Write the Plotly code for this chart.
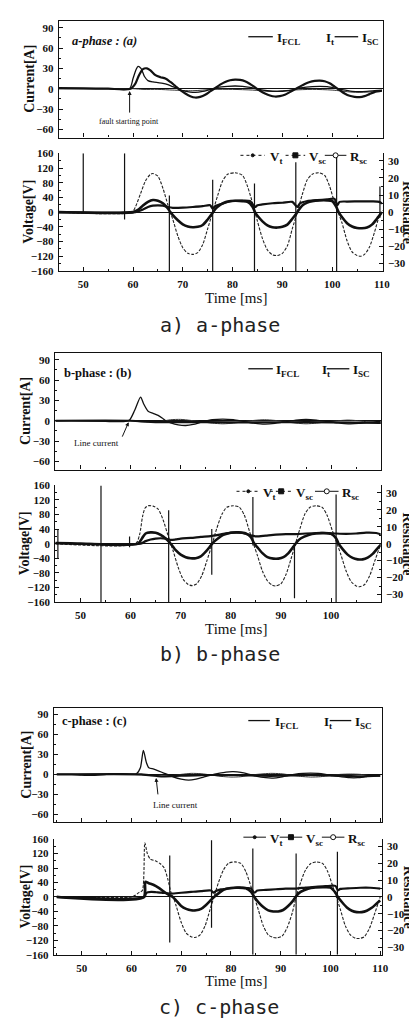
import plotly.graph_objects as go

W, H = 417, 1018

# ================= DATA =================
# ---- a-phase : currents [A] ----
a_isc_t = [45, 50, 55, 59.5, 60.5, 61.2, 62, 62.8, 63.5, 64.5, 65.5, 66.5, 67.5, 68.5, 69.5, 70.5, 71.5, 72.5, 73.5, 74.5, 75.5, 76.5, 77.5, 78.5, 79.5, 80.5, 81.5, 82.5, 83.5, 84.5, 85.5, 86.5, 87.5, 88.5, 89.5, 90.5, 91.5, 92.5, 93.5, 94.5, 95.5, 96.5, 97.5, 98.5, 99.5, 100.5, 101.5, 102.5, 103.5, 104.5, 105.5, 106.5, 107.5, 108.5, 110]
a_isc = [1, 0.5, 0, 0, 8, 20, 29, 30, 27, 20, 17, 15, 10, 4, -2, -7, -11, -13, -12, -9, -4, 1, 6, 10, 12.5, 13.5, 13, 11, 7, 2, -3, -7, -10, -11.5, -11, -9, -5, -1, 3, 7, 10, 11.5, 12, 11, 8, 3, -2, -7, -10.5, -12, -12.5, -11, -8, -5, -3]
a_ifcl_t = [45, 55, 59.3, 60, 60.6, 61, 61.6, 62.3, 63, 64, 65, 66, 67, 68, 69, 70, 71.5, 72.5, 74, 75.5, 77, 79, 80.5, 82, 83.5, 85, 87, 89, 91, 92.5, 94, 96, 97.5, 99, 100.5, 102, 104, 105.5, 107, 108.5, 110]
a_ifcl = [0.5, 0, 0, 15, 28, 33, 30, 18, 12, 10, 9, 8, 6, 3, 0, -3, -5, -5.5, -4, -1, 2, 3.5, 4, 3.5, 2, -0.5, -3, -4, -3, -1, 1.5, 3, 3.5, 3, 1, -1.5, -4, -4.5, -4, -3, -2]
a_it_t = [45, 60, 62, 65, 68, 72, 76, 80, 84, 88, 92, 96, 100, 104, 107, 110]
a_it = [0, 0, -1, -1, -2, -3, -1, -1, -2, -4, -2, -1, -2, -5, -5, -3]

# ---- a-phase : voltages [V] and resistance [ohm] ----
a_vt_t = [45, 59.8, 60.5, 61.5, 62.5, 63.5, 64, 65, 66, 67, 67.5, 68, 69, 70, 71, 72, 73, 74, 75, 76, 77, 78, 79, 80.5, 82, 83, 84, 84.5, 85, 86, 87, 88, 89, 90, 91, 92, 93, 94, 95, 96, 97.3, 98.5, 99.5, 100.5, 101.2, 102, 103, 104, 105, 105.7, 106.5, 107.5, 108.5, 109.5, 110.2]
a_vt = [0, 0, 15, 50, 85, 103, 105, 98, 65, 20, 0, -20, -65, -97, -112, -115, -110, -88, -45, 0, 45, 85, 103, 107, 100, 70, 25, 0, -25, -72, -103, -116, -118, -112, -92, -45, 0, 48, 88, 103, 107, 100, 70, 25, 0, -30, -78, -108, -118, -120, -115, -95, -55, -10, 5]
a_vsc_t = [45, 60, 61, 62, 63, 64, 65, 66, 67, 67.5, 68, 69, 70, 71, 72, 73, 74, 75, 76, 76.5, 77, 78, 79, 80.5, 82, 83, 84, 84.5, 85, 86, 87, 88, 89, 90, 91, 92, 93, 93.5, 94, 95, 96, 97.5, 99, 100, 100.8, 101.3, 102, 103, 104, 105, 106, 107, 108, 109, 110]
a_vsc = [0, 0, 6, 18, 28, 33, 31, 24, 10, 0, -8, -22, -33, -39, -41, -40, -35, -20, -2, 8, 15, 24, 29, 31, 30, 28, 15, 0, -10, -25, -36, -41, -42, -40, -34, -18, 0, 10, 18, 26, 30, 32, 32, 30, 15, 0, -14, -30, -39, -43, -44, -42, -34, -18, 0]
a_rsc_t = [45, 60.5, 62, 63, 64, 65, 66, 67, 68, 70, 72, 74, 75.5, 76, 76.5, 78, 80, 82, 83.5, 84.5, 85, 86, 88, 90, 92, 93, 93.5, 95, 97, 99, 100.5, 101, 101.5, 103, 106, 108, 109.5, 110]
a_rsc = [0, 0, 1.5, 3, 3.8, 4, 3.8, 3, 2.5, 2.6, 3, 3.5, 4, 2, 3.5, 5, 6.5, 6.8, 6.5, 3, 4, 4.5, 5.2, 5.5, 6, 3, 5, 6.5, 7, 7.5, 7.8, 4, 6, 6.2, 6.3, 6.3, 6, 5]
a_spk_t = [50.0, 58.3, 67.3, 76.0, 84.4, 92.7, 100.9, 109.6]
a_spk_lo = [-3, -20, -160, -160, -160, -160, -160, -15]
a_spk_hi = [160, 160, 45, 88, 78, 136, 160, 70]

# ---- b-phase : currents ----
b_ifcl_t = [45, 50, 55, 59, 59.8, 60.8, 62, 62.6, 63.5, 64.5, 65.5, 66.3, 67, 68, 69.5, 71, 72.5, 74.2, 76.3, 78.4, 80.5, 82.5, 84.6, 86.7, 88.8, 90.9, 93, 95, 97.1, 99.2, 101.3, 103.4, 105.5, 107.5, 110]
b_ifcl = [0, 0, -1, -1, 1, 15, 35, 25, 14, 11, 8, 4, 0, -3, -6, -7, -5.5, -2, 1.5, 2.5, 1.5, -1, -3.5, -5, -4, -1.5, 1, 2, 1, -1, -3, -4.5, -4, -2, -1]
b_it_t = [45, 60, 62, 64, 66, 68, 70, 72, 74.2, 76.3, 78.4, 80.5, 82.5, 84.6, 86.7, 88.8, 90.9, 93, 95, 97.1, 99.2, 101.3, 103.4, 105.5, 107.5, 110]
b_it = [0, 0, -1.5, -2, -1, 1.5, 2, 0.5, -1.5, -3.5, -4.5, -3.5, -1.5, 0.5, 1.5, 0.5, -1.5, -3.5, -4.5, -3.5, -1.5, 0, 1, 0, -2, -3.5]
b_isc_t = [45, 60, 65, 75, 85, 95, 110]
b_isc = [0, 0, -2, -2, -2.5, -2, -3]

# ---- b-phase : voltages / resistance ----
b_vt_t = [45, 61, 61.8, 62.4, 62.9, 63.5, 64.5, 65.5, 66.5, 67.3, 68, 68.5, 69.5, 70.5, 71.5, 72.3, 73.2, 74.2, 75.2, 76.3, 77.2, 78.2, 79.2, 80.5, 81.7, 82.7, 83.7, 84.5, 85.3, 86.3, 87.3, 88.3, 89, 90, 91, 92, 92.9, 93.8, 94.8, 95.8, 97, 98.2, 99.2, 100.2, 101.2, 102, 103, 104, 105, 105.7, 106.7, 107.7, 108.7, 109.8]
b_vt = [0, 0, 25, 75, 98, 104, 103, 95, 65, 30, 0, -20, -65, -98, -112, -115, -110, -88, -48, 0, 42, 80, 100, 104, 100, 78, 35, 0, -32, -75, -102, -114, -116, -110, -85, -42, 0, 42, 82, 100, 104, 100, 78, 38, 0, -32, -75, -104, -116, -118, -112, -88, -48, -5]
b_vsc_t = [45, 48, 50, 61.5, 62.3, 63, 64, 65, 66, 67, 67.8, 68.3, 69, 70, 71, 72, 73, 74, 75, 76, 76.6, 77.5, 78.5, 80, 81.5, 83, 84, 84.6, 85.3, 86.3, 87.3, 88.5, 89.5, 90.5, 91.5, 92.5, 93.2, 94, 95.5, 97, 98.5, 100, 101, 101.5, 102.3, 103.3, 104.3, 105.3, 106.3, 107.3, 108.3, 109.3, 110]
b_vsc = [2, 1, 0, 0, 15, 28, 31, 30, 24, 14, 3, -5, -18, -30, -37, -40, -40, -35, -22, -5, 5, 15, 24, 30, 31, 28, 18, 2, -10, -26, -37, -41, -41, -37, -26, -8, 5, 15, 24, 28, 29, 27, 15, 0, -15, -30, -39, -43, -43, -38, -28, -12, -2]
b_rsc_t = [45, 50, 62, 63, 64, 65, 66, 67, 68, 69, 70, 72, 74, 76, 78, 80, 82, 84, 85, 87, 89, 91, 93, 95, 97, 99, 101, 103, 105, 107, 109, 110]
b_rsc = [0.3, 0, 0, 1.5, 2.5, 3, 3.2, 3, 2.2, 2.5, 3, 3.4, 4, 4.5, 5.5, 6.5, 6.5, 5, 4.3, 4.8, 5.3, 5.6, 5.6, 6, 6.3, 6.3, 6, 5.8, 6, 6.5, 6.3, 5.5]
b_spk_t = [45.5, 54.1, 59.8, 67.6, 76.2, 84.4, 92.7, 101.0]
b_spk_lo = [-40, -160, -10, -160, -85, -5, -150, -160]
b_spk_hi = [40, 160, 20, 92, 40, 128, 0, 135]

# ---- c-phase : currents ----
c_ifcl_t = [45, 48, 50, 52, 55, 58, 61, 61.8, 62.4, 63, 63.5, 64.5, 65.5, 66.5, 67.2, 68.5, 70, 71.5, 73, 74.5, 76, 77.5, 79, 80.5, 82, 83.5, 85, 87, 88.5, 90, 91.5, 93, 94.5, 96, 97.5, 99, 100.5, 102, 103.8, 105.5, 107, 108.5, 110]
c_ifcl = [0, 0, -1, -1.5, 0, 1, 1, 10, 36, 18, 10, 8, 5, 2, 0, -4, -7, -8.5, -7, -4, -1, 1.5, 3.5, 4, 3, 0.5, -2.5, -5, -5.5, -4, -1.5, 0.5, 1.5, 2, 1.5, 0, -2, -3.5, -5, -5, -3.5, -2, -1]
c_it_t = [45, 60, 62.5, 64, 66, 68, 70, 72, 74, 76, 78, 80, 82, 84, 86, 88, 90, 92, 94, 96, 98, 100, 102, 104, 106, 108, 110]
c_it = [0, 0, -1, -2, -3, -2, 0, 1.5, 1, -1, -3, -4, -3.5, -1, 0.5, 1.5, 1, -1, -3, -4, -3.5, -1.5, 0, 0.5, 0, -2, -3]
c_isc_t = [45, 62, 66, 70, 74, 78, 82, 86, 90, 94, 98, 102, 106, 110]
c_isc = [0, 0, -3, -2, -1, -1, -1, -2, -2, -1, -1, -2, -3, -2]

# ---- c-phase : voltages / resistance ----
c_vt_t = [45, 60, 60.8, 61.5, 62.2, 62.7, 63.2, 63.8, 64.8, 65.8, 66.6, 67.3, 68, 68.4, 69, 70, 71, 72, 72.8, 73.8, 74.8, 75.8, 76.6, 77.5, 78.5, 79.5, 80.8, 82, 83, 84, 84.7, 85.5, 86.5, 87.5, 88.5, 89.3, 90.3, 91.3, 92.3, 93.1, 94, 95, 96, 97.2, 98.4, 99.4, 100.4, 101.2, 102, 103, 104, 105, 105.8, 106.8, 107.8, 108.8, 110]
c_vt = [0, 0, 5, 12, 18, 150, 120, 105, 100, 92, 80, 50, 10, 0, -25, -70, -100, -110, -112, -105, -80, -35, 0, 40, 75, 93, 97, 93, 70, 30, 0, -35, -80, -105, -112, -113, -108, -85, -45, 0, 40, 75, 92, 97, 93, 72, 32, 0, -35, -80, -105, -114, -115, -110, -88, -50, 0]
c_vsc_t = [45, 62.5, 62.8, 63.5, 64.5, 65.5, 66.5, 67.5, 68.3, 69, 70, 71, 72, 73, 74, 75, 76, 76.6, 77.5, 78.5, 80, 81.5, 83, 84, 84.7, 85.5, 86.5, 87.5, 88.5, 89.5, 90.5, 91.5, 92.5, 93.1, 94, 95.5, 97, 98.5, 100, 101, 101.5, 102.3, 103.3, 104.3, 105.3, 106.3, 107.3, 108.3, 109.3, 110]
c_vsc = [0, 0, 42, 38, 33, 25, 15, 6, 0, -10, -25, -33, -37, -37, -33, -22, -8, 0, 10, 20, 25, 26, 24, 15, 0, -14, -28, -37, -40, -40, -36, -25, -10, 2, 14, 23, 26, 27, 26, 12, 0, -14, -29, -38, -42, -42, -38, -30, -18, -10]
c_rsc_t = [45, 62.6, 63, 64, 65, 66, 67, 68, 70, 72, 74, 76, 76.5, 77, 78, 80, 82, 84, 84.7, 85.3, 87, 89, 91, 93, 95, 97, 99, 101, 101.5, 102, 104, 106, 108, 110]
c_rsc = [0, 0, 2.5, 3, 2.8, 2.6, 2.3, 2, 2.5, 3, 3.5, 3.8, 2.5, 3.5, 4.5, 5.2, 5.5, 5, 2.5, 3.8, 4.2, 4.6, 5, 5, 5.6, 6, 6.4, 6.6, 4, 4.8, 5.2, 5.5, 5.5, 5]
c_spk_t = [62.6, 67.7, 76.1, 84.4, 93.1, 101.4]
c_spk_lo = [0, -126, -85, -160, -160, -160]
c_spk_hi = [40, 115, 157, 134, 120, 125]

# axis ticks
cur_ticks = [-60, -30, 0, 30, 60, 90]
volt_ticks = [-160, -120, -80, -40, 0, 40, 80, 120, 160]
res_ticks = [-30, -20, -10, 0, 10, 20, 30]
time_ticks = [50, 60, 70, 80, 90, 100, 110]

phase_titles = ["a-phase : (a)", "b-phase : (b)", "c-phase : (c)"]
captions = ["a) a-phase", "b) b-phase", "c) c-phase"]

# ================= LAYOUT / STYLE =================
SERIF = "Liberation Serif"
INK = "#111111"


def fx(x):
    return x / W


def fy(y):
    return 1 - y / H


panels = [
    dict(cur=(7, 125), volt=(141, 260), xpx=(51.7, 382), xr=(45.07, 110.15),
         I=(a_ifcl_t, a_ifcl, a_it_t, a_it, a_isc_t, a_isc),
         V=(a_vt_t, a_vt, a_vsc_t, a_vsc, a_rsc_t, a_rsc),
         S=(a_spk_t, a_spk_lo, a_spk_hi),
         ytx=22, ytx2=21, restx=408, timex=232, capx=216, cap_y=315,
         lab=(63, 27, True),
         ileg=dict(y=23, s1=(245, 270), t1=272, t2=322, s3=(333, 357), t3=359),
         vleg=dict(y=143, s=[(237, 262), (283, 303), (323, 345)], t=[265, 305, 347])),
    dict(cur=(343, 461), volt=(477, 595), xpx=(48.3, 380), xr=(45.0, 109.9),
         I=(b_ifcl_t, b_ifcl, b_it_t, b_it, b_isc_t, b_isc),
         V=(b_vt_t, b_vt, b_vsc_t, b_vsc, b_rsc_t, b_rsc),
         S=(b_spk_t, b_spk_lo, b_spk_hi),
         ytx=18, ytx2=17, restx=407, timex=232, capx=216, cap_y=648,
         lab=(55, 363, False),
         ileg=dict(y=359, s1=(245, 270), t1=271, t2=318, s3=(325, 348), t3=350),
         vleg=dict(y=483, s=[(233, 257), (267, 290), (313, 337)], t=[258, 292, 338])),
    dict(cur=(702, 818), volt=(835, 952), xpx=(46.7, 381), xr=(44.4, 110.3),
         I=(c_ifcl_t, c_ifcl, c_it_t, c_it, c_isc_t, c_isc),
         V=(c_vt_t, c_vt, c_vsc_t, c_vsc, c_rsc_t, c_rsc),
         S=(c_spk_t, c_spk_lo, c_spk_hi),
         ytx=18, ytx2=18, restx=408, timex=232, capx=215, cap_y=1005,
         lab=(53, 715, False),
         ileg=dict(y=715, s1=(245, 267), t1=270, t2=320, s3=(328, 350), t3=352),
         vleg=dict(y=833, s=[(240, 263), (277, 300), (320, 343)], t=[265, 302, 345])),
]

annot_extra = [
    # (text, text_x, text_y, size, arrow_from(x,y), arrow_to(x,y))  -- page pixels
    ("fault starting point", 123, 109, 8, (124, 101), (124, 78)),
    ("Line current", 90, 434, 9, (116, 429), (123, 413)),
    ("Line current", 171, 800, 9, (153, 791), (151, 773)),
]


def axname(kind, n):
    return f"{kind}axis" + ("" if n == 1 else str(n))


fig = go.Figure()
layout = {}
shapes = []
annots = []

tickfont = dict(family=SERIF, size=11, color=INK, weight="bold")
base_axis = dict(showline=True, linecolor=INK, linewidth=1.2, ticks="inside",
                 ticklen=4, tickwidth=1, tickcolor=INK, showgrid=False,
                 zeroline=False, tickfont=tickfont)

spline = dict(shape="spline", smoothing=0.7)

for i, P in enumerate(panels):
    nxc, nxv = 2 * i + 1, 2 * i + 2
    nyc, nyv, nyr = 3 * i + 1, 3 * i + 2, 3 * i + 3
    xc, xv = f"x{nxc}", f"x{nxv}"
    yc, yv, yr = f"y{nyc}", f"y{nyv}", f"y{nyr}"
    xdom = [fx(P["xpx"][0]), fx(P["xpx"][1])]

    layout[axname("x", nxc)] = dict(base_axis, domain=xdom, range=list(P["xr"]), anchor=yc,
                                    tickvals=time_ticks, showticklabels=False, mirror=True,
                                    minor=dict(ticks="inside", ticklen=2, dtick=5, tickcolor=INK))
    layout[axname("y", nyc)] = dict(base_axis, domain=[fy(P["cur"][1]), fy(P["cur"][0])],
                                    range=[-72, 100], anchor=xc, tickvals=cur_ticks, mirror=True,
                                    zeroline=True, zerolinecolor=INK, zerolinewidth=1,
                                    ticklabelstandoff=2,
                                    minor=dict(ticks="inside", ticklen=2, dtick=15, tickcolor=INK))
    layout[axname("x", nxv)] = dict(base_axis, domain=xdom, range=list(P["xr"]), anchor=yv,
                                    tickvals=time_ticks, ticklabelstandoff=3,
                                    minor=dict(ticks="inside", ticklen=2, dtick=5, tickcolor=INK))
    layout[axname("y", nyv)] = dict(base_axis, domain=[fy(P["volt"][1]), fy(P["volt"][0])],
                                    range=[-160, 160], anchor=xv, tickvals=volt_ticks,
                                    zeroline=True, zerolinecolor=INK, zerolinewidth=1,
                                    ticklabelstandoff=2,
                                    minor=dict(ticks="inside", ticklen=2, dtick=20, tickcolor=INK))
    layout[axname("y", nyr)] = dict(base_axis, overlaying=yv, side="right", anchor=xv,
                                    range=[-34.4, 34.4], tickvals=res_ticks, ticklabelstandoff=2,
                                    minor=dict(ticks="inside", ticklen=2, dtick=5, tickcolor=INK))

    it_t, ifcl, it2_t, it2, isc_t, isc = P["I"]
    fig.add_trace(go.Scatter(x=it2_t, y=it2, mode="lines", xaxis=xc, yaxis=yc,
                             line=dict(color="#333", width=1, **spline), name="I_t"))
    fig.add_trace(go.Scatter(x=it_t, y=ifcl, mode="lines", xaxis=xc, yaxis=yc,
                             line=dict(color=INK, width=1.3, **spline), name="I_FCL"))
    fig.add_trace(go.Scatter(x=isc_t, y=isc, mode="lines", xaxis=xc, yaxis=yc,
                             line=dict(color=INK, width=2.2, **spline), name="I_SC"))

    vt_t, vt, vsc_t, vsc, rsc_t, rsc = P["V"]
    fig.add_trace(go.Scatter(x=vt_t, y=vt, mode="lines", xaxis=xv, yaxis=yv,
                             line=dict(color="#222", width=1.1, dash="3px,1.5px", **spline), name="V_t"))
    fig.add_trace(go.Scatter(x=rsc_t, y=rsc, mode="lines", xaxis=xv, yaxis=yr,
                             line=dict(color=INK, width=2.2, **spline), name="R_sc"))
    fig.add_trace(go.Scatter(x=vsc_t, y=vsc, mode="lines", xaxis=xv, yaxis=yv,
                             line=dict(color=INK, width=2.6, **spline), name="V_sc"))
    st, slo, shi = P["S"]
    sx, sy = [], []
    for t, lo, hi in zip(st, slo, shi):
        sx += [t, t, None]
        sy += [lo, hi, None]
    fig.add_trace(go.Scatter(x=sx, y=sy, mode="lines", xaxis=xv, yaxis=yv,
                             line=dict(color=INK, width=1.2), name="spikes"))

    # ---- texts ----
    cy = (P["cur"][0] + P["cur"][1]) / 2
    vy = (P["volt"][0] + P["volt"][1]) / 2
    ttl = dict(family=SERIF, size=14, color=INK, weight="bold")
    annots.append(dict(text="Current[A]", x=fx(P["ytx"]), y=fy(cy), textangle=-90, font=ttl))
    annots.append(dict(text="Voltage[V]", x=fx(P["ytx2"]), y=fy(vy), textangle=-90, font=ttl))
    annots.append(dict(text="Resistance", x=fx(P["restx"]), y=fy(vy), textangle=90, font=ttl))
    annots.append(dict(text="Time [ms]", x=fx(P["timex"]), y=fy(P["volt"][1] + 27),
                       font=dict(family=SERIF, size=15, color=INK)))
    annots.append(dict(text=captions[i], x=fx(P["capx"]), y=fy(P["cap_y"]),
                       font=dict(family="DejaVu Sans Mono", size=20, color="#222")))
    lx, ly, ital = P["lab"]
    lab_text = f"<i>{phase_titles[i]}</i>" if ital else phase_titles[i]
    annots.append(dict(text=lab_text, x=fx(lx), y=fy(ly), xanchor="left",
                       font=dict(family=SERIF, size=12.5, color=INK, weight="bold")))

    # current legend
    L = P["ileg"]
    lf = dict(family=SERIF, size=13, color=INK, weight="bold")
    shapes.append(dict(type="line", xref="paper", yref="paper", x0=fx(L["s1"][0]), x1=fx(L["s1"][1]),
                       y0=fy(L["y"]), y1=fy(L["y"]), line=dict(color=INK, width=1.3)))
    shapes.append(dict(type="line", xref="paper", yref="paper", x0=fx(L["s3"][0]), x1=fx(L["s3"][1]),
                       y0=fy(L["y"]), y1=fy(L["y"]), line=dict(color=INK, width=1.3)))
    annots.append(dict(text="I<sub>FCL</sub>", x=fx(L["t1"]), y=fy(L["y"] + 2), xanchor="left", font=lf))
    annots.append(dict(text="I<sub>t</sub>", x=fx(L["t2"]), y=fy(L["y"] + 2), xanchor="left", font=lf))
    annots.append(dict(text="I<sub>SC</sub>", x=fx(L["t3"]), y=fy(L["y"] + 2), xanchor="left", font=lf))

    # voltage legend
    VL = P["vleg"]
    dashes = ["dot", "dot", "solid"] if i < 2 else ["solid", "solid", "solid"]
    names = ["V<sub>t</sub>", "V<sub>sc</sub>", "R<sub>sc</sub>"]
    marks = ["circle", "rect", "circle"]
    fills = [INK, INK, "white"]
    msz = [1.5, 2.5, 2.5]
    for k in range(3):
        s0, s1 = VL["s"][k]
        shapes.append(dict(type="line", xref="paper", yref="paper", x0=fx(s0), x1=fx(s1),
                           y0=fy(VL["y"]), y1=fy(VL["y"]), line=dict(color=INK, width=1, dash=dashes[k])))
        xm = fx((s0 + s1) / 2)
        shapes.append(dict(type=marks[k], xref="paper", yref="paper", xsizemode="pixel",
                           ysizemode="pixel", xanchor=xm, yanchor=fy(VL["y"]),
                           x0=-msz[k], x1=msz[k], y0=-msz[k], y1=msz[k],
                           line=dict(color=INK, width=1), fillcolor=fills[k]))
        annots.append(dict(text=names[k], x=fx(VL["t"][k]), y=fy(VL["y"] + 2), xanchor="left", font=lf))

for (txt, tx, ty, sz, a0, a1) in annot_extra:
    annots.append(dict(text=txt, x=fx(tx), y=fy(ty), font=dict(family=SERIF, size=sz, color=INK)))
    annots.append(dict(text="", x=fx(a1[0]), y=fy(a1[1]), ax=a0[0] - a1[0], ay=a0[1] - a1[1],
                       axref="pixel", ayref="pixel", showarrow=True, arrowhead=2,
                       arrowsize=0.8, arrowwidth=1, arrowcolor=INK))

for a in annots:
    a.setdefault("xref", "paper")
    a.setdefault("yref", "paper")
    a.setdefault("showarrow", False)
    a.setdefault("xanchor", "center")
    a.setdefault("yanchor", "middle")

layout.update(dict(width=W, height=H, autosize=False, margin=dict(l=0, r=0, t=0, b=0),
                   paper_bgcolor="white", plot_bgcolor="white", showlegend=False,
                   shapes=shapes, annotations=annots))
fig.update_layout(**layout)
fig.write_html("out.html")
